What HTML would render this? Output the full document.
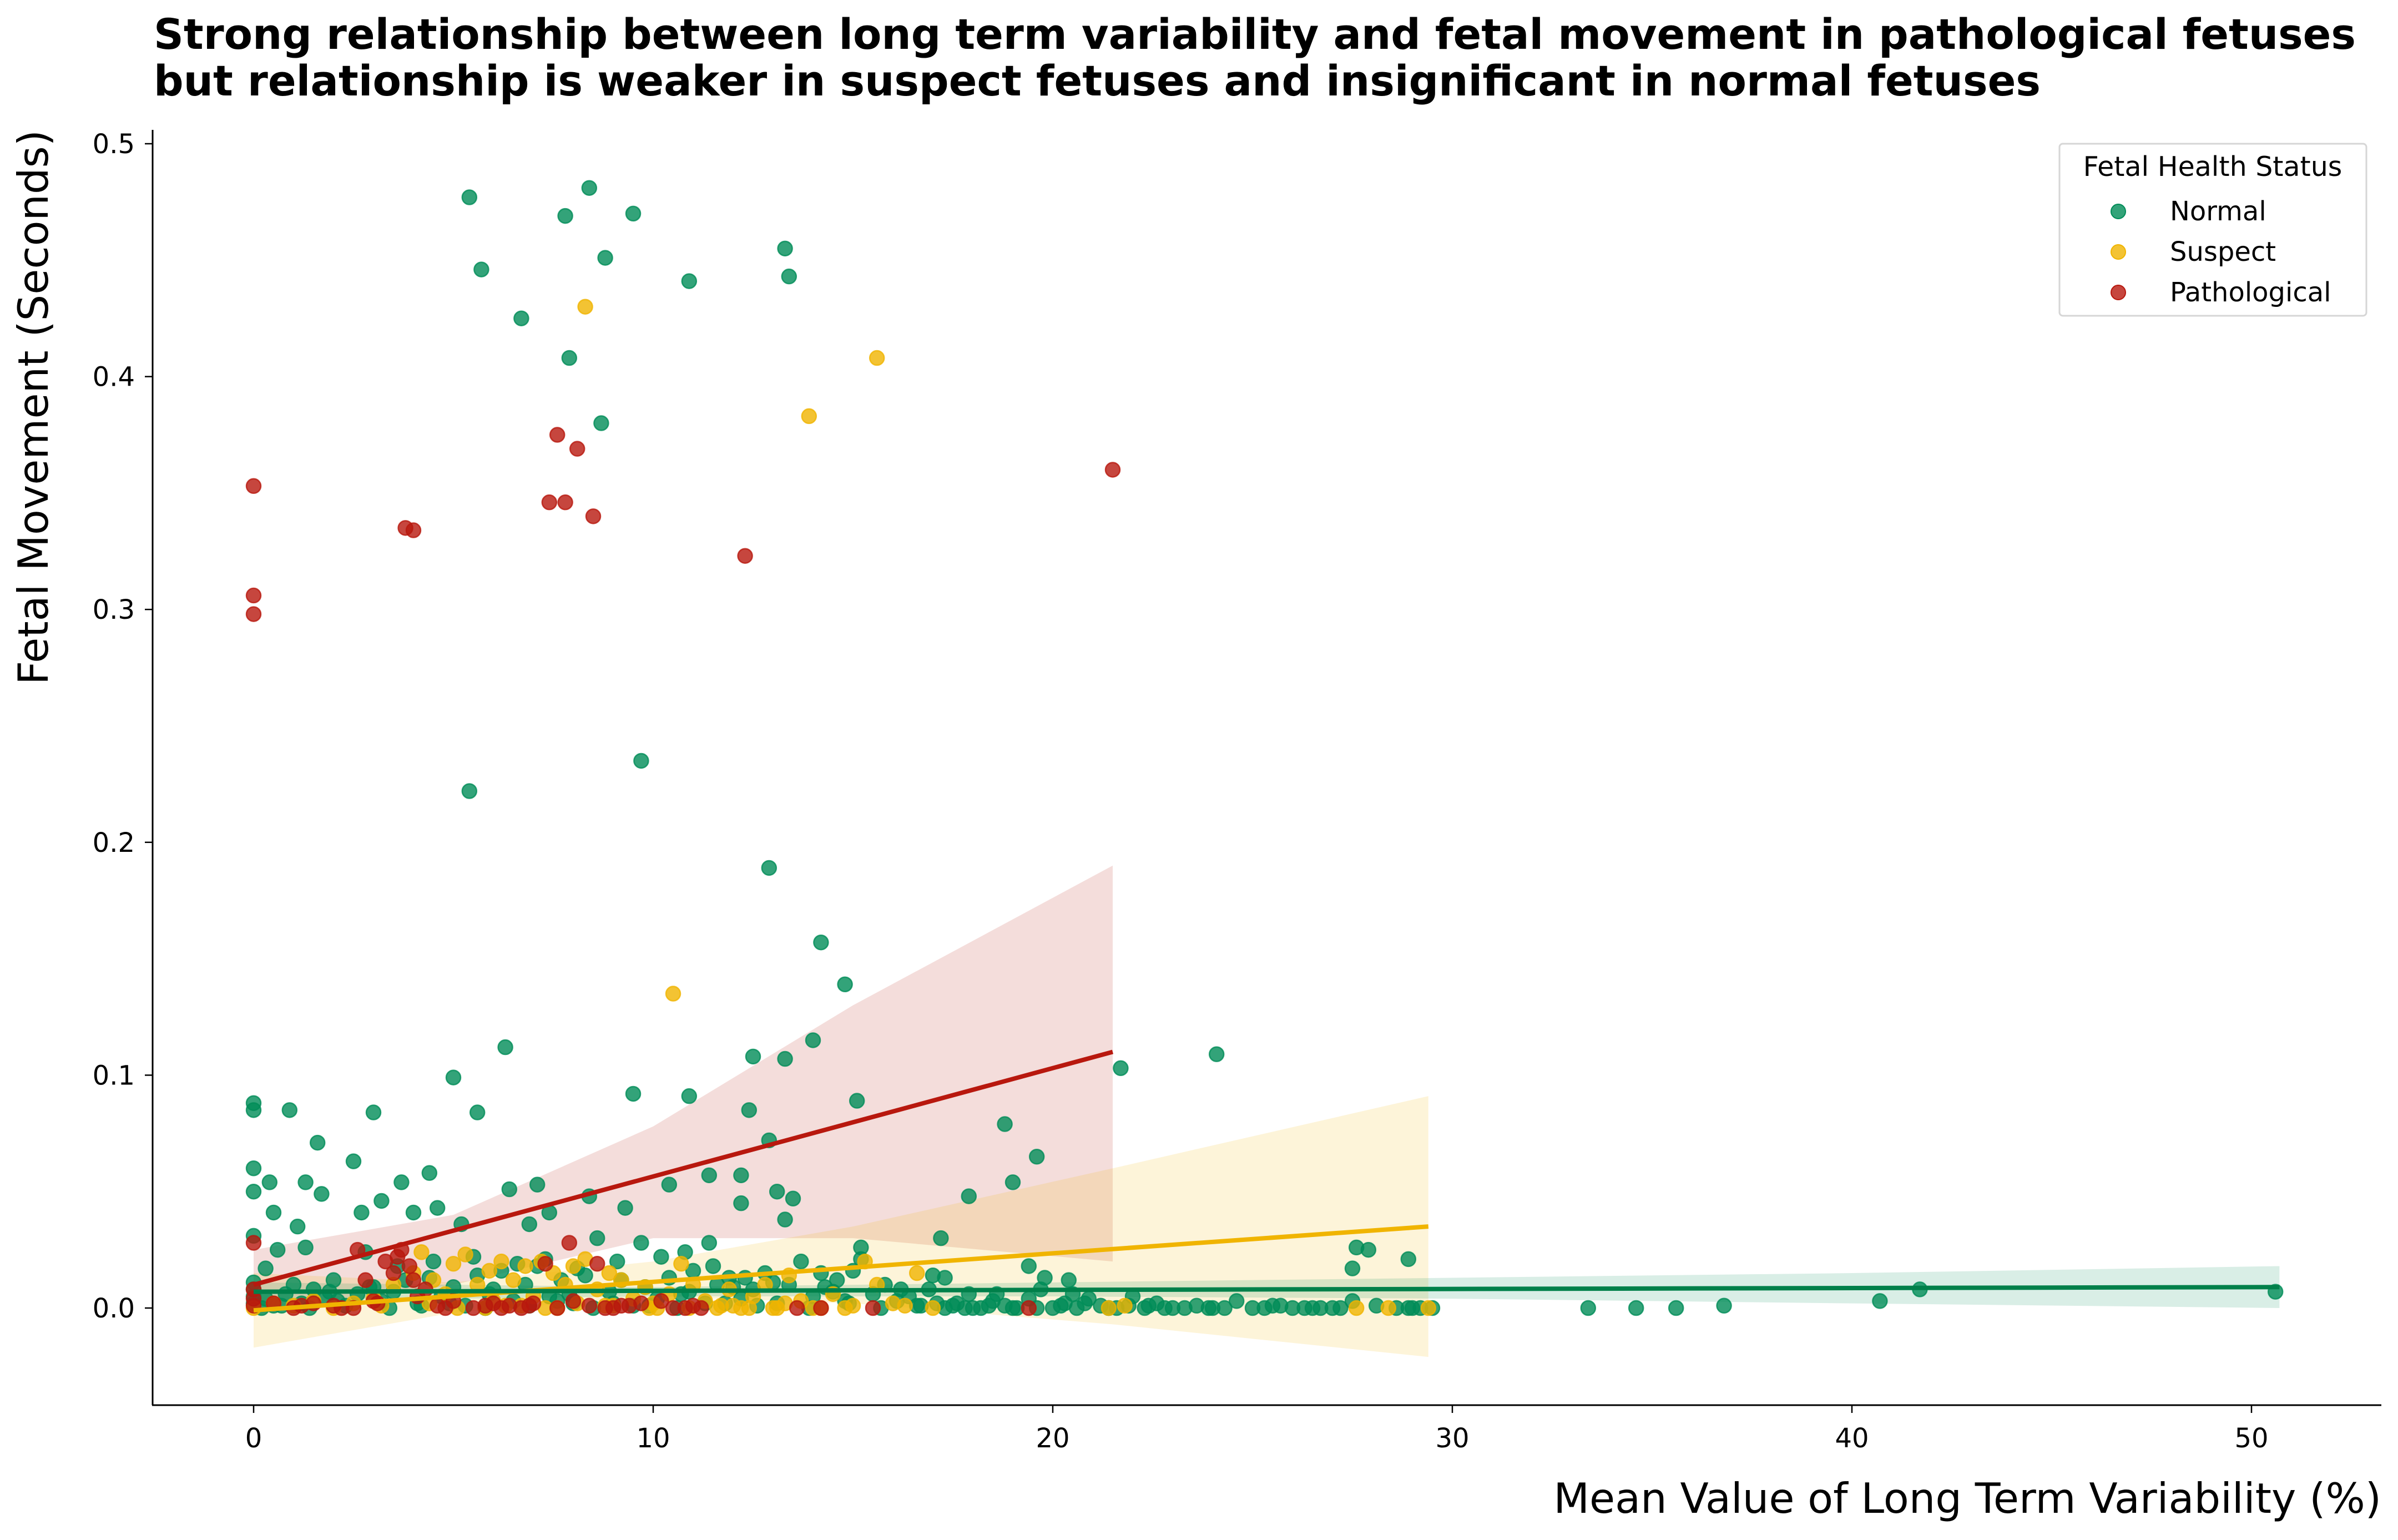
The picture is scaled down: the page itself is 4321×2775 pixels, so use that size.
<!DOCTYPE html>
<html><head><meta charset="utf-8"><style>
html,body{margin:0;padding:0;background:#fff}
svg{display:block}
text{font-family:"DejaVu Sans","Liberation Sans",sans-serif}
</style></head><body>
<svg id="chart" width="4321" height="2775" viewBox="0 0 4321 2775" xmlns="http://www.w3.org/2000/svg">
<rect width="4321" height="2775" fill="#fff"/>
<text x="277" y="88" font-size="76" font-weight="bold" textLength="3968" lengthAdjust="spacingAndGlyphs">Strong relationship between long term variability and fetal movement in pathological fetuses</text>
<text x="277" y="172" font-size="76" font-weight="bold" textLength="3400" lengthAdjust="spacingAndGlyphs">but relationship is weaker in suspect fetuses and insignificant in normal fetuses</text>
<g id="bands"></g>
<g id="points"></g>
<g id="lines"></g>
<g id="axes"></g>
<text x="4291" y="2726" font-size="75" text-anchor="end">Mean Value of Long Term Variability (%)</text>
<text transform="translate(86,234) rotate(-90)" font-size="75" text-anchor="end">Fetal Movement (Seconds)</text>
<g>
<rect x="3711" y="259" width="553" height="310" rx="6" fill="#fff" stroke="#d6d6d6" stroke-width="3"/>
<text x="3987" y="317" font-size="49" text-anchor="middle">Fetal Health Status</text>
<g><circle cx="3817" cy="381" r="13" fill="#008c58" fill-opacity="0.8" stroke="#008c58" stroke-width="2"/><text x="3910" y="397" font-size="48">Normal</text></g>
<g><circle cx="3817" cy="454" r="13" fill="#f0b400" fill-opacity="0.8" stroke="#f0b400" stroke-width="2"/><text x="3910" y="470" font-size="48">Suspect</text></g>
<g><circle cx="3817" cy="527" r="13" fill="#b8180e" fill-opacity="0.8" stroke="#b8180e" stroke-width="2"/><text x="3910" y="543" font-size="48">Pathological</text></g>
</g>
</svg>
<script>
const xTicks=[0,10,20,30,40,50];
const yTicks=[0.0,0.1,0.2,0.3,0.4,0.5];
const normX=[5.4,7.8,8.4,9.5,5.7,8.8,10.9,13.3,13.4,6.7,7.9,8.7,9.7,5.4,12.9,14.2,14.8,21.7,24.1,6.3,5.0,5.6,3.0,0.9,0,0,9.5,10.9,12.5,13.3,14.0,12.4,15.1,12.9,18.8,19.6,19.0,17.9,1.6,0,0,0.4,1.3,2.5,3.7,4.4,5.2,6.4,7.1,8.4,10.4,11.4,12.2,12.2,13.1,13.5,13.3,0.5,1.1,1.7,2.7,3.2,4.0,4.6,6.9,7.4,9.3,0,0.3,9.7,10.8,11.4,15.2,17.2,19.4,20.4,27.6,27.9,28.9,27.5,33.4,34.6,35.6,36.8,40.7,41.7,50.6,
0,0,0,0,0.3,0.5,0.8,1.0,1.2,1.5,1.8,2.0,2.3,2.6,2.9,3.2,3.5,3.8,4.1,4.4,4.7,5.0,5.3,5.6,5.9,6.2,6.5,6.8,7.1,7.4,7.7,8.0,8.3,8.6,8.9,9.2,9.5,9.8,10.1,10.4,10.7,11.0,11.3,11.6,11.9,12.2,12.5,12.8,13.1,13.4,13.7,14.0,14.3,14.6,14.9,15.2,15.5,15.8,16.1,16.4,16.7,17.0,17.3,17.6,17.9,18.2,18.5,18.8,19.1,19.4,19.7,20.0,20.3,20.6,20.9,21.2,21.6,22.0,22.3,22.6,23.0,23.3,23.6,24.0,24.6,25.0,25.3,25.7,26.0,26.3,26.7,27.2,27.5,28.9,29.2,29.5,17.5,18.0,21.9,22.8,0.6,1.3,2.8,3.6,4.5,5.5,6.6,7.3,8.1,9.1,10.2,11.5,12.3,13.0,14.2,15.0,16.2,17.3,18.6,19.8,20.5,
0.2,0.7,1.4,2.1,3.4,4.2,4.9,5.8,6.9,7.6,8.5,9.0,9.9,10.6,11.8,12.6,13.9,14.8,15.7,16.6,17.1,17.8,18.4,19.0,19.6,20.2,20.8,21.4,22.4,23.9,24.3,25.5,26.5,27.0,28.1,28.6,29.0,1.9,3.0,6.0,7.9,10.9,12.0,14.5,16.9];
const normY=[0.477,0.469,0.481,0.470,0.446,0.451,0.441,0.455,0.443,0.425,0.408,0.380,0.235,0.222,0.189,0.157,0.139,0.103,0.109,0.112,0.099,0.084,0.084,0.085,0.088,0.085,0.092,0.091,0.108,0.107,0.115,0.085,0.089,0.072,0.079,0.065,0.054,0.048,0.071,0.060,0.050,0.054,0.054,0.063,0.054,0.058,0.036,0.051,0.053,0.048,0.053,0.057,0.057,0.045,0.050,0.047,0.038,0.041,0.035,0.049,0.041,0.046,0.041,0.043,0.036,0.041,0.043,0.031,0.017,0.028,0.024,0.028,0.026,0.030,0.018,0.012,0.026,0.025,0.021,0.017,0,0,0,0.001,0.003,0.008,0.007,
0.002,0.005,0.008,0.011,0.004,0.001,0.006,0.010,0.002,0.008,0.004,0.012,0.001,0.006,0.009,0.003,0.007,0.012,0.002,0.013,0.005,0.009,0.001,0.014,0.006,0.016,0.003,0.010,0.018,0.005,0.012,0.002,0.014,0.030,0.007,0.012,0.001,0.009,0.004,0.013,0.006,0.016,0.002,0.010,0.013,0.004,0.008,0.015,0.002,0.010,0.020,0.005,0.009,0.012,0.002,0.021,0.006,0.010,0.003,0.005,0.001,0.014,0,0.002,0.006,0,0.003,0.001,0,0.004,0.008,0,0.002,0,0.004,0.001,0,0.005,0,0.002,0,0,0.001,0,0.003,0,0,0.001,0,0,0,0,0.003,0,0,0,0.001,0,0.001,0,0.025,0.026,0.024,0.018,0.020,0.022,0.019,0.021,0.017,0.020,0.022,0.018,0.013,0.011,0.015,0.016,0.008,0.013,0.006,0.013,0.006,
0.000,0.001,0.000,0.003,0.000,0.001,0.002,0.000,0.001,0.003,0.000,0.002,0.001,0.000,0.002,0.001,0.000,0.003,0.000,0.001,0.002,0.000,0.001,0.000,0.000,0.001,0.002,0.000,0.001,0.000,0.000,0.001,0.000,0.000,0.001,0.000,0.000,0.007,0.009,0.008,0.006,0.007,0.009,0.007,0.008];
const suspX=[8.3,15.6,13.9,10.5,0,0.5,1,1.5,2,2.5,3,3.5,4,4.2,4.5,4.8,5.0,5.3,5.6,5.9,6.2,6.5,6.8,7.0,7.2,7.5,7.8,8.0,8.3,8.6,8.9,9.2,9.5,9.8,10.1,10.4,10.7,11.0,11.3,11.6,11.9,12.2,12.5,12.8,13.1,13.4,13.7,14.0,14.5,15.0,15.3,15.6,16.0,16.6,17.0,21.4,21.8,27.6,28.4,29.4,5.8,6.3,7.6,8.8,9.9,12.0,13.0,14.2,
3.2,4.4,5.1,6.0,6.7,7.3,8.1,9.0,10.0,10.9,11.7,12.4,13.3,14.8,16.3];
const suspY=[0.430,0.408,0.383,0.135,0,0.002,0.001,0.003,0,0.002,0.004,0.010,0.015,0.024,0.012,0.006,0.019,0.023,0.010,0.016,0.020,0.012,0.018,0.005,0.020,0.015,0.010,0.018,0.021,0.008,0.015,0.012,0.004,0.009,0,0.006,0.019,0.010,0.003,0,0.008,0,0.005,0.010,0,0.014,0.003,0,0.006,0.001,0.020,0.010,0.002,0.015,0,0,0.001,0,0,0,0,0.001,0,0.001,0,0.001,0,0,
0.001,0.002,0.000,0.003,0.001,0.000,0.002,0.001,0.002,0.000,0.001,0.000,0.002,0.000,0.001];
const pathX=[0,0,0,3.8,4.0,7.6,8.1,7.4,7.8,8.5,12.3,21.5,0,0,0,0,0.5,1.0,1.5,2.0,2.5,2.8,3.0,3.3,3.5,3.7,3.9,4.1,4.3,4.6,5.0,5.5,6.0,6.4,6.7,7.0,7.3,7.6,8.0,8.4,8.6,9.0,9.4,9.7,10.2,10.8,11.2,13.6,14.2,15.5,19.4,2.6,3.6,4.0,7.9,
1.2,2.2,3.1,4.8,5.8,6.2,6.9,8.8,9.2,10.5,11.0];
const pathY=[0.353,0.306,0.298,0.335,0.334,0.375,0.369,0.346,0.346,0.340,0.323,0.360,0.001,0.004,0.008,0.028,0.002,0,0.002,0.001,0,0.012,0.003,0.020,0.015,0.025,0.018,0.005,0.008,0.001,0.003,0,0.002,0.001,0,0.002,0.019,0,0.003,0.001,0.019,0,0.001,0.002,0.003,0,0,0,0,0,0,0.025,0.022,0.012,0.028,
0.001,0.000,0.002,0.000,0.001,0.000,0.001,0.000,0.001,0.000,0.001];
// regression fits and confidence bands
const normFitX=[0,50.7]; const normFitY=[0.007,0.009];
const normBandX=[0,10,20,30,40,50.7]; const normBandLo=[0.003,0.005,0.005,0.004,0.002,0.000]; const normBandHi=[0.011,0.009,0.011,0.013,0.015,0.018];
const suspFitX=[0,29.4]; const suspFitY=[-0.001,0.035];
const suspBandX=[0,5,10,15,21.5,29.4]; const suspBandLo=[-0.017,-0.002,0.005,0.002,-0.007,-0.021]; const suspBandHi=[0.015,0.011,0.020,0.035,0.060,0.091];
const pathFitX=[0,21.5]; const pathFitY=[0.010,0.110];
const pathBandX=[0,5,10,15,21.5]; const pathBandLo=[-0.003,0.010,0.030,0.030,0.020]; const pathBandHi=[0.025,0.040,0.078,0.130,0.190];

const NS='http://www.w3.org/2000/svg';
const X=v=>457+v*72.0;
const Y=v=>2357-v*4196;
const mk=(t,a,p)=>{const e=document.createElementNS(NS,t);for(const k in a)e.setAttribute(k,a[k]);p.appendChild(e);return e;};
const bands=document.getElementById('bands'),pts=document.getElementById('points'),lines=document.getElementById('lines'),axes=document.getElementById('axes');
function band(xs,lo,hi,col,name){
  let d='M'+xs.map((x,i)=>X(x)+','+Y(hi[i])).join(' L');
  for(let i=xs.length-1;i>=0;i--)d+=' L'+X(xs[i])+','+Y(lo[i]);
  const p=mk('path',{d:d+'Z',fill:col,'fill-opacity':0.15},bands);
  
  
}
band(pathBandX,pathBandLo,pathBandHi,'#b8180e','band-pathological');
band(suspBandX,suspBandLo,suspBandHi,'#f0b400','band-suspect');
band(normBandX,normBandLo,normBandHi,'#008c58','band-normal');
function scatter(xs,ys,col,name){
  xs.forEach((x,i)=>{
    const c=mk('circle',{cx:X(x),cy:Y(ys[i]),r:13,fill:col,'fill-opacity':0.8,stroke:col,'stroke-opacity':0.8,'stroke-width':2.5},pts);
    
    
  });
}
scatter(normX,normY,'#008c58','point-normal');
scatter(suspX,suspY,'#f0b400','point-suspect');
scatter(pathX,pathY,'#b8180e','point-pathological');
function fit(xs,ys,col,name){
  const l=mk('line',{x1:X(xs[0]),y1:Y(ys[0]),x2:X(xs[1]),y2:Y(ys[1]),stroke:col,'stroke-width':8},lines);
  
  
}
fit(pathFitX,pathFitY,'#b8180e','fit-line-pathological');
fit(suspFitX,suspFitY,'#f0b400','fit-line-suspect');
fit(normFitX,normFitY,'#00804a','fit-line-normal');
// axes
const ls=mk('line',{x1:275,y1:234,x2:275,y2:2532,stroke:'#000','stroke-width':3},axes);


const bs=mk('line',{x1:274,y1:2532,x2:4291,y2:2532,stroke:'#000','stroke-width':3},axes);


xTicks.forEach(t=>{
  mk('line',{x1:X(t),y1:2532,x2:X(t),y2:2546,stroke:'#000','stroke-width':2.5},axes);
  const tx=mk('text',{x:X(t),y:2608,'font-size':48,'text-anchor':'middle'},axes);
  tx.textContent=String(t);
  
  
});
yTicks.forEach(t=>{
  mk('line',{x1:261,y1:Y(t),x2:275,y2:Y(t),stroke:'#000','stroke-width':2.5},axes);
  const tx=mk('text',{x:243,y:Y(t)+17,'font-size':48,'text-anchor':'end'},axes);
  tx.textContent=t.toFixed(1);
  
  
});
</script>
</body></html>
